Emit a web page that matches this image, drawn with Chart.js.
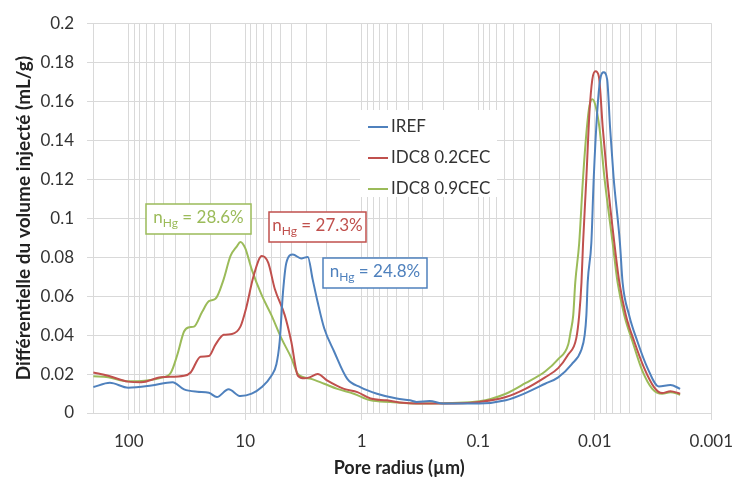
<!DOCTYPE html>
<html>
<head>
<meta charset="utf-8">
<script src="https://cdn.jsdelivr.net/npm/chart.js@4.4.1/dist/chart.umd.min.js"></script>
<style>
  html, body { margin: 0; padding: 0; background: #fff; }
  #chart { display: block; }
</style>
</head>
<body>
<canvas id="chart" width="744" height="482"></canvas>
<script>
// pore radius (µm) and differential intruded volume (mL/g)
const irefRadius = [201, 145, 101, 64, 42, 33.5, 25.8, 20.5, 17.5, 13.9, 11.0, 8.8, 7.2, 5.96, 5.4, 5.06, 4.74, 4.44, 3.9, 3.31, 2.9, 2.64, 2.39, 2.1, 1.73, 1.33, 1.03, 0.74, 0.5, 0.386, 0.339, 0.261, 0.201, 0.098, 0.058, 0.0394, 0.0267, 0.0206, 0.0158, 0.013, 0.0122, 0.0118, 0.0115, 0.0107, 0.0102, 0.00953, 0.00898, 0.00838, 0.00783, 0.00738, 0.00689, 0.00608, 0.00577, 0.00507, 0.00431, 0.00354, 0.00282, 0.00224, 0.00185];
const irefValues = [0.0133, 0.0155, 0.013, 0.0141, 0.0158, 0.0121, 0.0109, 0.0104, 0.0082, 0.0122, 0.0087, 0.0099, 0.0133, 0.0191, 0.025, 0.0368, 0.062, 0.077, 0.0813, 0.0793, 0.0801, 0.0687, 0.0569, 0.0435, 0.0317, 0.0175, 0.0133, 0.0099, 0.0074, 0.0065, 0.0057, 0.0062, 0.0049, 0.0049, 0.0065, 0.0102, 0.015, 0.0183, 0.025, 0.0326, 0.0401, 0.0502, 0.067, 0.0872, 0.1208, 0.1543, 0.1711, 0.1748, 0.1711, 0.146, 0.1208, 0.0872, 0.067, 0.0502, 0.0368, 0.0233, 0.0136, 0.0144, 0.0124];

const idc02Radius = [201, 150, 101, 78, 53, 33.5, 29.4, 24.2, 20.5, 18.0, 15.3, 13.0, 11.0, 9.8, 8.5, 7.2, 6.35, 5.57, 4.58, 4.03, 3.53, 3.1, 2.81, 2.39, 1.97, 1.42, 1.09, 0.84, 0.61, 0.44, 0.339, 0.201, 0.098, 0.058, 0.0394, 0.0267, 0.0206, 0.0169, 0.0144, 0.0136, 0.013, 0.0126, 0.0118, 0.0111, 0.0105, 0.00985, 0.00923, 0.00853, 0.00783, 0.00679, 0.00615, 0.00541, 0.00459, 0.00378, 0.0031, 0.00264, 0.00224, 0.00185];
const idc02Values = [0.0208, 0.0191, 0.0161, 0.0158, 0.0183, 0.0191, 0.0208, 0.0289, 0.0292, 0.0351, 0.0401, 0.0405, 0.0443, 0.054, 0.07, 0.0805, 0.0771, 0.0636, 0.0502, 0.0368, 0.0191, 0.0178, 0.0183, 0.02, 0.0166, 0.0124, 0.0107, 0.0074, 0.0065, 0.0052, 0.0049, 0.0049, 0.0057, 0.0082, 0.0124, 0.0183, 0.023, 0.03, 0.0384, 0.0502, 0.067, 0.0872, 0.1208, 0.1543, 0.1711, 0.1753, 0.1728, 0.146, 0.1208, 0.0872, 0.067, 0.0502, 0.0368, 0.0233, 0.0133, 0.0102, 0.0112, 0.0099];

const idc09Radius = [201, 150, 101, 73, 53, 43.4, 38.2, 33.5, 30.3, 27.5, 23.4, 20.5, 18.0, 15.3, 13.4, 11.8, 11.0, 10.0, 8.8, 7.2, 5.96, 4.9, 4.03, 3.53, 2.72, 2.1, 1.62, 1.17, 0.84, 0.57, 0.339, 0.261, 0.098, 0.058, 0.0394, 0.0267, 0.0206, 0.0169, 0.0161, 0.0153, 0.0147, 0.0136, 0.0126, 0.0117, 0.0111, 0.0105, 0.00985, 0.0091, 0.00826, 0.00702, 0.00637, 0.00558, 0.00475, 0.00391, 0.00321, 0.00264, 0.00224, 0.00185];
const idc09Values = [0.0188, 0.0183, 0.0163, 0.0166, 0.018, 0.0208, 0.03, 0.0418, 0.044, 0.0443, 0.0519, 0.0574, 0.0586, 0.0687, 0.0805, 0.0855, 0.0878, 0.0846, 0.0737, 0.0603, 0.0502, 0.0384, 0.0284, 0.02, 0.0175, 0.015, 0.0124, 0.0099, 0.0065, 0.0057, 0.0049, 0.0049, 0.006, 0.0099, 0.0153, 0.0213, 0.0276, 0.0351, 0.0418, 0.0502, 0.067, 0.0872, 0.1208, 0.146, 0.1577, 0.161, 0.1577, 0.146, 0.1208, 0.0872, 0.067, 0.0502, 0.0368, 0.0217, 0.0124, 0.0099, 0.0107, 0.0094];

const seriesNames = ['IREF', 'IDC8 0.2CEC', 'IDC8 0.9CEC'];
const porosityLabels = ['24.8%', '27.3%', '28.6%'];
const decades = [100, 10, 1, 0.1, 0.01, 0.001];
const decadeLabels = ['100', '10', '1', '0.1', '0.01', '0.001'];

const colors = ['#4f81bd', '#c0504d', '#9bbb59'];
const gridColor = '#d9d9d9';
const textColor = '#333333';
const fontFamily = 'Lato, "Open Sans", sans-serif';

function points(xs, ys) {
  return xs.map((x, i) => ({ x: x, y: ys[i] }));
}

// log grid: 1..9 x each decade, up to the left edge of the axis
const xMin = 0.001, xMax = 228;
const xGridValues = [];
decades.forEach(d => {
  for (let k = 1; k <= 9; k++) {
    const v = +(d * k).toPrecision(3);
    if (v >= xMin && v <= xMax) xGridValues.push(v);
  }
});
xGridValues.sort((a, b) => b - a);

function isDecade(v) {
  return decades.some(d => Math.abs(v - d) / d < 1e-6);
}

// legend and n_Hg boxes drawn on top of the grid
const overlay = {
  id: 'overlay',
  beforeDatasetsDraw(chart) {
    const ctx = chart.ctx;
    ctx.save();
    // legend
    ctx.fillStyle = '#fff';
    ctx.fillRect(360, 110, 137, 87);
    ctx.font = '17px ' + fontFamily;
    ctx.textBaseline = 'middle';
    const rows = [127, 158, 189];
    seriesNames.forEach((name, i) => {
      ctx.strokeStyle = colors[i];
      ctx.lineWidth = 2;
      ctx.beginPath();
      ctx.moveTo(368, rows[i]);
      ctx.lineTo(388, rows[i]);
      ctx.stroke();
      ctx.fillStyle = textColor;
      ctx.fillText(name, 391, rows[i]);
    });
    // n_Hg annotations
    const boxes = [
      { i: 0, x: 323, y: 258, w: 104, h: 30 },
      { i: 1, x: 269, y: 212, w: 97, h: 30 },
      { i: 2, x: 146, y: 204, w: 105, h: 30 }
    ];
    boxes.forEach(b => {
      ctx.fillStyle = '#fff';
      ctx.fillRect(b.x, b.y, b.w, b.h);
      ctx.strokeStyle = colors[b.i];
      ctx.lineWidth = 1.5;
      ctx.strokeRect(b.x, b.y, b.w, b.h);
      const big = '17px ' + fontFamily, small = '12px ' + fontFamily;
      const rest = ' = ' + porosityLabels[b.i];
      ctx.font = big;
      const wn = ctx.measureText('n').width;
      const wr = ctx.measureText(rest).width;
      ctx.font = small;
      const ws = ctx.measureText('Hg').width;
      let x = b.x + (b.w - wn - ws - wr) / 2;
      const cy = b.y + b.h / 2;
      ctx.fillStyle = colors[b.i];
      ctx.textBaseline = 'middle';
      ctx.font = big;
      ctx.fillText('n', x, cy - 1);
      x += wn;
      ctx.font = small;
      ctx.fillText('Hg', x, cy + 4);
      x += ws;
      ctx.font = big;
      ctx.fillText(rest, x, cy - 1);
    });
    ctx.restore();
  }
};

const datasets = [
  points(irefRadius, irefValues),
  points(idc02Radius, idc02Values),
  points(idc09Radius, idc09Values)
].map((data, i) => ({
  label: seriesNames[i],
  data: data,
  borderColor: colors[i],
  backgroundColor: colors[i],
  borderWidth: 2,
  pointRadius: 0,
  cubicInterpolationMode: 'monotone',
  fill: false
}));

new Chart(document.getElementById('chart').getContext('2d'), {
  type: 'line',
  data: { datasets: datasets },
  plugins: [overlay],
  options: {
    responsive: false,
    animation: false,
    devicePixelRatio: 1,
    layout: { padding: { left: 0, top: 16, right: 25, bottom: 0 } },
    plugins: {
      legend: { display: false },
      tooltip: { enabled: false }
    },
    scales: {
      x: {
        type: 'logarithmic',
        reverse: true,
        min: xMin,
        max: xMax,
        afterBuildTicks: scale => {
          scale.ticks = xGridValues.map(v => ({ value: v, major: isDecade(v) }));
        },
        afterFit: scale => { scale.height = 69; },
        grid: {
          color: gridColor,
          lineWidth: 1,
          drawTicks: true,
          tickLength: 7,
          tickColor: c => (c.tick && isDecade(c.tick.value)) ? gridColor : 'rgba(0,0,0,0)'
        },
        border: { display: false },
        ticks: {
          autoSkip: false,
          maxRotation: 0,
          padding: 11,
          color: textColor,
          font: { family: fontFamily, size: 17 },
          callback: v => {
            const k = decades.findIndex(d => Math.abs(v - d) / d < 1e-6);
            return k >= 0 ? decadeLabels[k] : '';
          }
        },
        title: {
          display: true,
          text: 'Pore radius (µm)',
          color: '#222',
          font: { family: fontFamily, size: 18, weight: 'bold' },
          padding: { top: 0, bottom: 3 }
        }
      },
      y: {
        min: 0,
        max: 0.2,
        afterFit: scale => { scale.width = 87; },
        grid: { color: gridColor, lineWidth: 1, drawTicks: false },
        border: { display: false },
        ticks: {
          stepSize: 0.02,
          padding: 13,
          color: textColor,
          font: { family: fontFamily, size: 17 },
          callback: v => String(+v.toFixed(2))
        },
        title: {
          display: true,
          text: 'Différentielle du volume injecté (mL/g)',
          color: '#222',
          font: { family: fontFamily, size: 19, weight: 'bold' },
          padding: { top: 12, bottom: 0 }
        }
      }
    }
  }
});
</script>
</body>
</html>
